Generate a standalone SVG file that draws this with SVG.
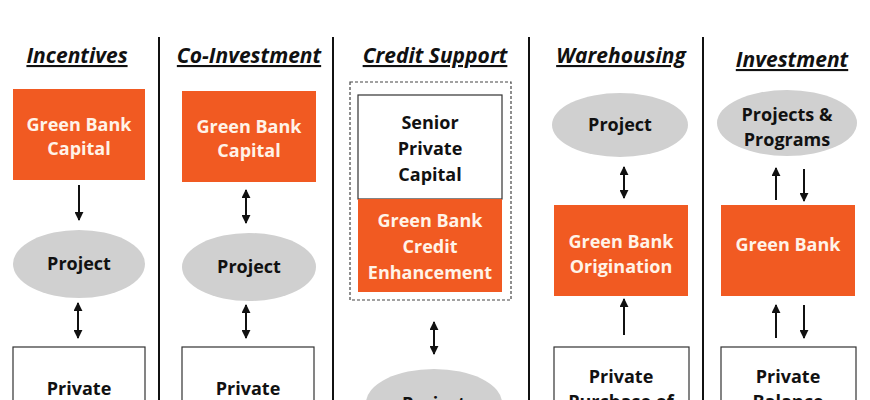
<svg xmlns="http://www.w3.org/2000/svg" width="870" height="400" viewBox="0 0 870 400">
<defs>
<style>
.bg{fill:#ffffff}
.title{font-family:"Open Sans","Liberation Sans",sans-serif;font-weight:bold;font-style:italic;font-size:21px;fill:#111;text-anchor:middle;text-decoration:underline}
.lbl{font-family:"Open Sans","Liberation Sans",sans-serif;font-weight:bold;font-size:18px;text-anchor:middle}
.dark{fill:#111111}
.light{fill:#FFF3E8}
.orange{fill:#F15A22}
.oval{fill:#D0D0D0}
.white{fill:#ffffff;stroke:#333;stroke-width:1.2}
.div{stroke:#111;stroke-width:2}
.arr{stroke:#111;stroke-width:2;fill:none}
.dash{fill:none;stroke:#444;stroke-width:1.2;stroke-dasharray:3 2}
</style>
<marker id="ah" viewBox="0 0 10 10" refX="9" refY="5" markerWidth="9" markerHeight="9" markerUnits="userSpaceOnUse" orient="auto-start-reverse">
<path d="M0,0 L10,5 L0,10 Z" fill="#111"/>
</marker>
</defs>
<rect class="bg" x="0" y="0" width="870" height="400"/>

<g id="dividers">
<line class="div" x1="159" y1="37" x2="159" y2="400"/>
<line class="div" x1="333" y1="37" x2="333" y2="400"/>
<line class="div" x1="529" y1="37" x2="529" y2="400"/>
<line class="div" x1="703" y1="37" x2="703" y2="400"/>
</g>

<g id="titles">
<text class="title" x="77" y="63">Incentives</text>
<text class="title" x="249" y="63">Co-Investment</text>
<text class="title" x="435" y="63">Credit Support</text>
<text class="title" x="621" y="63">Warehousing</text>
<text class="title" x="792" y="67">Investment</text>
</g>

<!-- Column 1 -->
<g id="c1-gb">
<rect class="orange" x="13" y="89" width="132" height="91"/>
<text class="lbl light" x="79" y="131">Green Bank</text>
<text class="lbl light" x="79" y="155">Capital</text>
</g>
<g id="c1-project">
<ellipse class="oval" cx="79" cy="264" rx="66" ry="34"/>
<text class="lbl dark" x="79" y="270">Project</text>
</g>
<g id="c1-private">
<rect class="white" x="13" y="347" width="132" height="70"/>
<text class="lbl dark" x="79" y="395">Private</text>
</g>

<!-- Column 2 -->
<g id="c2-gb">
<rect class="orange" x="182" y="91" width="134" height="91"/>
<text class="lbl light" x="249" y="133">Green Bank</text>
<text class="lbl light" x="249" y="157">Capital</text>
</g>
<g id="c2-project">
<ellipse class="oval" cx="249" cy="267" rx="67" ry="34"/>
<text class="lbl dark" x="249" y="273">Project</text>
</g>
<g id="c2-private">
<rect class="white" x="182" y="347" width="132" height="70"/>
<text class="lbl dark" x="248" y="395">Private</text>
</g>

<!-- Column 3 -->
<g id="c3-group">
<rect class="dash" x="350" y="82" width="161" height="218"/>
</g>
<g id="c3-senior">
<rect class="white" x="358" y="95" width="144" height="104"/>
<text class="lbl dark" x="430" y="129">Senior</text>
<text class="lbl dark" x="430" y="155">Private</text>
<text class="lbl dark" x="430" y="181">Capital</text>
</g>
<g id="c3-gb">
<rect class="orange" x="358" y="199" width="144" height="93"/>
<text class="lbl light" x="430" y="227">Green Bank</text>
<text class="lbl light" x="430" y="253">Credit</text>
<text class="lbl light" x="430" y="279">Enhancement</text>
</g>
<g id="c3-project">
<ellipse class="oval" cx="434" cy="403" rx="68" ry="34"/>
<text class="lbl dark" x="434" y="410">Project</text>
</g>

<!-- Column 4 -->
<g id="c4-project">
<ellipse class="oval" cx="620" cy="125" rx="68" ry="32"/>
<text class="lbl dark" x="620" y="131">Project</text>
</g>
<g id="c4-gb">
<rect class="orange" x="554" y="205" width="134" height="91"/>
<text class="lbl light" x="621" y="248">Green Bank</text>
<text class="lbl light" x="621" y="273">Origination</text>
</g>
<g id="c4-private">
<rect class="white" x="554" y="347" width="135" height="70"/>
<text class="lbl dark" x="621" y="383">Private</text>
<text class="lbl dark" x="621" y="408">Purchase of</text>
</g>

<!-- Column 5 -->
<g id="c5-projects">
<ellipse class="oval" cx="787" cy="123" rx="70" ry="33"/>
<text class="lbl dark" x="787" y="121">Projects &amp;</text>
<text class="lbl dark" x="787" y="146">Programs</text>
</g>
<g id="c5-gb">
<rect class="orange" x="721" y="205" width="134" height="91"/>
<text class="lbl light" x="788" y="251">Green Bank</text>
</g>
<g id="c5-private">
<rect class="white" x="721" y="347" width="135" height="70"/>
<text class="lbl dark" x="788" y="383">Private</text>
<text class="lbl dark" x="788" y="408">Balance</text>
</g>

<g id="connectors">
<line class="arr" x1="79" y1="185" x2="79" y2="220" marker-end="url(#ah)"/>
<line class="arr" x1="78" y1="303" x2="78" y2="338" marker-start="url(#ah)" marker-end="url(#ah)"/>
<line class="arr" x1="246" y1="190" x2="246" y2="223" marker-start="url(#ah)" marker-end="url(#ah)"/>
<line class="arr" x1="246" y1="305" x2="246" y2="338" marker-start="url(#ah)" marker-end="url(#ah)"/>
<line class="arr" x1="434" y1="322" x2="434" y2="354" marker-start="url(#ah)" marker-end="url(#ah)"/>
<line class="arr" x1="624" y1="167" x2="624" y2="198" marker-start="url(#ah)" marker-end="url(#ah)"/>
<line class="arr" x1="624" y1="335" x2="624" y2="299" marker-end="url(#ah)"/>
<line class="arr" x1="776" y1="200" x2="776" y2="168" marker-end="url(#ah)"/>
<line class="arr" x1="804" y1="169" x2="804" y2="201" marker-end="url(#ah)"/>
<line class="arr" x1="776" y1="338" x2="776" y2="305" marker-end="url(#ah)"/>
<line class="arr" x1="804" y1="305" x2="804" y2="338" marker-end="url(#ah)"/>
</g>
</svg>
